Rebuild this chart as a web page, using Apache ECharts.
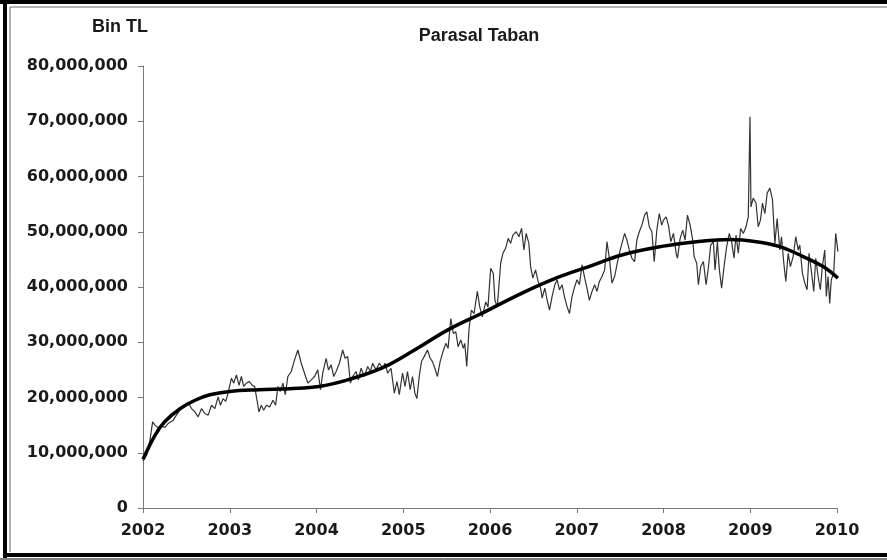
<!DOCTYPE html>
<html>
<head>
<meta charset="utf-8">
<title>Parasal Taban</title>
<script src="https://cdn.jsdelivr.net/npm/echarts@6/dist/echarts.min.js"></script>
<style>
  html, body { margin: 0; padding: 0; background: #fff; }
  #chart { width: 887px; height: 560px; }
</style>
</head>
<body>
<div id="chart"></div>
<script>
const obsYears = [
  2002.000, 2002.043, 2002.080, 2002.111, 2002.138, 2002.176, 2002.215, 2002.253, 2002.291, 2002.348,
  2002.406, 2002.445, 2002.483, 2002.521, 2002.560, 2002.598, 2002.636, 2002.675, 2002.713, 2002.751,
  2002.790, 2002.828, 2002.866, 2002.893, 2002.923, 2002.954, 2002.980,
  2003.020, 2003.046, 2003.077, 2003.107, 2003.134, 2003.161, 2003.192, 2003.222, 2003.261, 2003.287,
  2003.314, 2003.337, 2003.364, 2003.391, 2003.422, 2003.460, 2003.498, 2003.529, 2003.555, 2003.583,
  2003.613, 2003.640, 2003.670, 2003.709, 2003.747, 2003.785, 2003.824, 2003.862, 2003.900, 2003.939,
  2003.977,
  2004.015, 2004.046, 2004.072, 2004.111, 2004.138, 2004.169, 2004.199, 2004.226, 2004.264, 2004.302,
  2004.330, 2004.360, 2004.391, 2004.417, 2004.456, 2004.483, 2004.514, 2004.552, 2004.590, 2004.621,
  2004.647, 2004.686, 2004.724, 2004.762, 2004.790, 2004.820, 2004.859, 2004.897, 2004.928, 2004.954,
  2004.992,
  2005.020, 2005.049, 2005.080, 2005.107, 2005.134, 2005.157, 2005.184, 2005.210, 2005.241, 2005.279,
  2005.310, 2005.337, 2005.364, 2005.394, 2005.425, 2005.452, 2005.491, 2005.517, 2005.548, 2005.578,
  2005.606, 2005.632, 2005.663, 2005.693, 2005.709, 2005.732, 2005.759, 2005.785, 2005.816, 2005.854,
  2005.882, 2005.911, 2005.951, 2005.977,
  2006.008, 2006.038, 2006.057, 2006.084, 2006.123, 2006.149, 2006.180, 2006.210, 2006.238, 2006.264,
  2006.302, 2006.333, 2006.364, 2006.391, 2006.417, 2006.448, 2006.468, 2006.494, 2006.525, 2006.555,
  2006.583, 2006.601, 2006.632, 2006.659, 2006.686, 2006.716, 2006.747, 2006.774, 2006.801, 2006.831,
  2006.862, 2006.889, 2006.916, 2006.946, 2006.977,
  2007.003, 2007.031, 2007.061, 2007.092, 2007.118, 2007.146, 2007.176, 2007.207, 2007.233, 2007.261,
  2007.291, 2007.322, 2007.348, 2007.376, 2007.406, 2007.437, 2007.463, 2007.491, 2007.521, 2007.552,
  2007.578, 2007.606, 2007.636, 2007.667, 2007.693, 2007.721, 2007.751, 2007.782, 2007.808, 2007.836,
  2007.866, 2007.893, 2007.923, 2007.951, 2007.980,
  2008.000, 2008.031, 2008.057, 2008.084, 2008.115, 2008.146, 2008.161, 2008.192, 2008.222, 2008.249,
  2008.276, 2008.307, 2008.337, 2008.353, 2008.383, 2008.402, 2008.429, 2008.460, 2008.491, 2008.517,
  2008.544, 2008.575, 2008.594, 2008.621, 2008.644, 2008.670, 2008.698, 2008.728, 2008.759, 2008.785,
  2008.813, 2008.836, 2008.862, 2008.889, 2008.920, 2008.951, 2008.977, 2008.997,
  2009.008, 2009.034, 2009.066, 2009.092, 2009.118, 2009.141, 2009.169, 2009.195, 2009.226, 2009.256,
  2009.284, 2009.310, 2009.341, 2009.360, 2009.387, 2009.410, 2009.437, 2009.463, 2009.494, 2009.525,
  2009.552, 2009.571, 2009.601, 2009.629, 2009.655, 2009.678, 2009.705, 2009.732, 2009.755, 2009.782,
  2009.808, 2009.831, 2009.859, 2009.877, 2009.897, 2009.916, 2009.934, 2009.962, 2009.985, 2010.011
];
const obsValues = [
  8.5, 9.6, 12.3, 15.6, 15.0, 14.5, 14.8, 14.6, 15.3, 15.9,
  17.3, 18.3, 18.6, 19.1, 18.0, 17.4, 16.5, 18.0, 17.1, 16.8,
  18.6, 18.0, 20.1, 18.6, 19.8, 19.3, 20.8,
  23.5, 22.6, 24.1, 22.2, 23.8, 22.0, 22.6, 22.9, 22.2, 22.0,
  19.5, 17.4, 18.6, 17.7, 18.6, 18.3, 19.5, 18.6, 22.0, 21.1,
  22.6, 20.5, 23.8, 24.7, 26.8, 28.6, 26.2, 24.4, 22.6, 23.2,
  23.8,
  25.0, 21.4, 24.4, 27.1, 25.0, 25.9, 23.8, 24.7, 26.2, 28.6,
  27.1, 27.4, 22.6, 23.8, 24.7, 23.2, 25.3, 23.8, 25.6, 24.7,
  26.2, 25.0, 26.2, 25.3, 26.2, 24.4, 25.3, 20.8, 22.9, 20.5,
  24.4,
  22.0, 24.7, 21.4, 23.8, 20.8, 19.8, 23.8, 26.5, 27.4, 28.6,
  27.1, 26.5, 25.3, 23.8, 26.5, 28.0, 29.8, 28.9, 34.3, 31.6,
  31.9, 29.2, 30.4, 28.9, 29.8, 25.6, 32.5, 35.8, 35.2, 39.2,
  36.4, 34.6, 37.3, 36.4,
  43.4, 42.5, 37.6, 36.4, 44.3, 46.1, 47.0, 48.8, 47.9, 49.4,
  50.0, 49.1, 50.6, 46.7, 49.7, 47.9, 43.7, 41.6, 43.1, 41.0,
  39.8, 38.0, 39.8, 37.6, 35.8, 38.3, 40.4, 41.3, 39.5, 40.4,
  38.0, 36.4, 35.2, 38.3, 40.1,
  41.3, 40.4, 44.0, 41.6, 39.8, 37.6, 39.2, 40.4, 39.2, 41.0,
  41.9, 43.1, 48.2, 45.2, 40.7, 41.9, 44.0, 46.1, 47.9, 49.7,
  48.5, 46.7, 45.2, 44.6, 48.5, 50.0, 51.2, 53.0, 53.6, 50.9,
  50.0, 44.6, 50.3, 53.3, 51.2,
  52.1, 52.7, 51.2, 48.2, 49.7, 46.1, 45.2, 48.8, 50.3, 48.5,
  53.0, 51.2, 48.5, 45.5, 44.3, 40.4, 43.7, 44.6, 40.4, 43.4,
  47.6, 48.2, 43.1, 48.2, 43.1, 39.8, 43.7, 47.3, 49.7, 48.2,
  45.2, 49.4, 46.1, 50.6, 49.7, 50.9, 52.7, 70.8,
  54.5, 56.1, 55.2, 50.9, 52.1, 55.2, 53.3, 57.0, 57.9, 55.8,
  47.9, 52.4, 46.7, 49.1, 44.3, 41.0, 46.1, 43.7, 45.5, 49.1,
  46.7, 47.6, 42.5, 40.7, 39.5, 46.1, 42.8, 39.2, 45.2, 41.9,
  39.5, 43.7, 46.7, 38.3, 41.9, 37.0, 41.3, 42.5, 49.7, 46.4
];

// smooth trend curve
const trendYears = [
  2002.00, 2002.14, 2002.25, 2002.43, 2002.60, 2002.77, 2003.00, 2003.34, 2003.69, 2004.03,
  2004.36, 2004.75, 2005.13, 2005.51, 2005.90, 2006.37, 2006.76, 2007.14, 2007.52, 2008.00,
  2008.38, 2008.77, 2009.07, 2009.34, 2009.61, 2009.84, 2010.01
];
const trendValues = [
  8.8, 13.2, 15.6, 18.0, 19.5, 20.5, 21.1, 21.4, 21.6, 22.0,
  23.2, 25.3, 28.6, 32.2, 35.2, 38.9, 41.6, 43.7, 45.8, 47.4,
  48.2, 48.6, 48.2, 47.3, 45.5, 43.7, 41.6
];

const yearTicks = ['2002', '2003', '2004', '2005', '2006', '2007', '2008', '2009', '2010'];

const chartTitle = 'Parasal Taban';
const unitLabel = 'Bin TL';

const MILLION = 1000000;
const obsData = obsYears.map((y, i) => [y, obsValues[i] * MILLION]);
const trendData = trendYears.map((y, i) => [y, trendValues[i] * MILLION]);

const labelFont = {
  color: '#1a1a1a',
  fontFamily: 'DejaVu Sans',
  fontWeight: 'bold',
  fontSize: 16
};

const chart = echarts.init(document.getElementById('chart'));

chart.setOption({
  backgroundColor: '#fff',
  animation: false,
  title: {
    text: chartTitle,
    left: 474,
    top: 22,
    textAlign: 'center',
    textStyle: {
      color: '#1a1a1a',
      fontFamily: 'Liberation Sans',
      fontWeight: 'bold',
      fontSize: 18
    }
  },
  grid: {
    left: 143,
    right: 50,
    top: 66,
    bottom: 52
  },
  xAxis: {
    type: 'value',
    min: 2002,
    max: 2010,
    interval: 1,
    axisLine: { lineStyle: { color: '#7a7a7a', width: 1 } },
    axisTick: { show: true, length: 5, inside: false, lineStyle: { color: '#7a7a7a' } },
    splitLine: { show: false },
    axisLabel: {
      ...labelFont,
      margin: 15,
      formatter: (v) => yearTicks[Math.round(v) - 2002] || ''
    }
  },
  yAxis: {
    type: 'value',
    min: 0,
    max: 80 * MILLION,
    interval: 10 * MILLION,
    name: unitLabel,
    nameLocation: 'end',
    nameGap: 30,
    nameTextStyle: {
      color: '#1a1a1a',
      fontFamily: 'Liberation Sans',
      fontWeight: 'bold',
      fontSize: 18,
      padding: [0, 0, 0, -46]
    },
    axisLine: { show: true, lineStyle: { color: '#7a7a7a', width: 1 } },
    axisTick: { show: true, length: 5, inside: false, lineStyle: { color: '#7a7a7a' } },
    splitLine: { show: false },
    axisLabel: {
      ...labelFont,
      margin: 15
    }
  },
  series: [
    {
      name: 'Parasal Taban',
      type: 'line',
      data: obsData,
      clip: false,
      showSymbol: false,
      smooth: false,
      lineStyle: { color: '#333', width: 1.2 },
      z: 2
    },
    {
      name: 'Trend',
      type: 'line',
      data: trendData,
      clip: false,
      showSymbol: false,
      smooth: 0.4,
      lineStyle: { color: '#000', width: 3.5 },
      z: 3
    }
  ],
  graphic: [
    // double frame round the picture (right side is cut off)
    { type: 'line', shape: { x1: 0, y1: 2, x2: 887, y2: 2 }, style: { stroke: '#000', lineWidth: 4 } },
    { type: 'line', shape: { x1: 10, y1: 7, x2: 887, y2: 7 }, style: { stroke: '#666', lineWidth: 1 } },
    { type: 'line', shape: { x1: 5, y1: 0, x2: 5, y2: 558 }, style: { stroke: '#000', lineWidth: 4 } },
    { type: 'line', shape: { x1: 10, y1: 7, x2: 10, y2: 552 }, style: { stroke: '#666', lineWidth: 1 } },
    { type: 'line', shape: { x1: 3, y1: 555, x2: 887, y2: 555 }, style: { stroke: '#000', lineWidth: 4 } },
    { type: 'line', shape: { x1: 0, y1: 559, x2: 887, y2: 559 }, style: { stroke: '#000', lineWidth: 1 } }
  ]
});

window.addEventListener('resize', () => chart.resize());
</script>
</body>
</html>
